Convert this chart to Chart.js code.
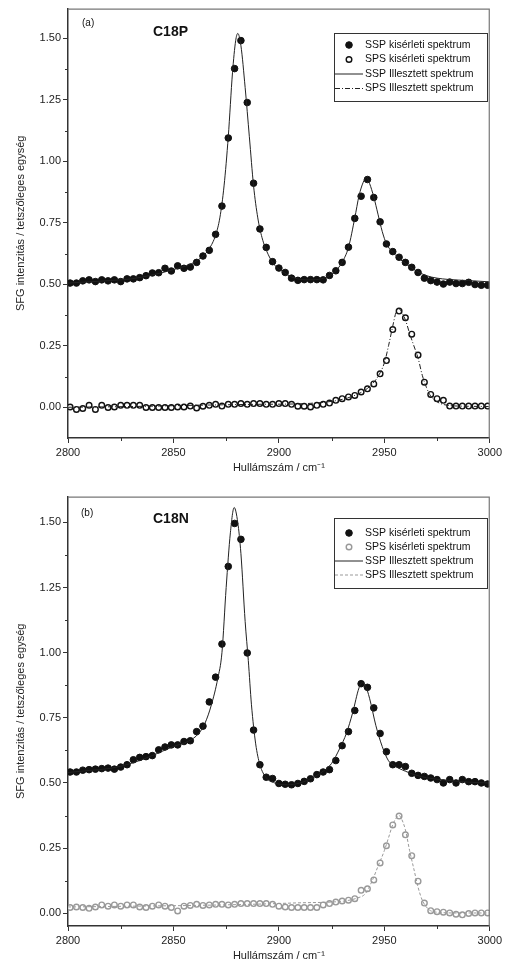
<!DOCTYPE html>
<html><head><meta charset="utf-8">
<script src="https://cdn.jsdelivr.net/npm/chart.js@4.4.1/dist/chart.umd.min.js"></script>
<style>
html,body{margin:0;padding:0;background:#fff;}
#wrap{position:relative;width:505px;height:976px;}
.c{position:absolute;left:0;width:505px;height:488px;}
</style></head><body>
<div id="wrap">
<div class="c" style="top:0"><canvas id="ca"></canvas></div>
<div class="c" style="top:488px"><canvas id="cb"></canvas></div>
</div>
<script>
// ---------- DATA ----------
const wavenumbers = [2801,2804,2807,2810,2813,2816,2819,2822,2825,2828,2831,2834,2837,2840,2843,2846,2849,2852,2855,2858,2861,2864,2867,2870,2873,2876,2879,2882,2885,2888,2891,2894,2897,2900,2903,2906,2909,2912,2915,2918,2921,2924,2927,2930,2933,2936,2939,2942,2945,2948,2951,2954,2957,2960,2963,2966,2969,2972,2975,2978,2981,2984,2987,2990,2993,2996,2999];

// (a) C18P
const sspA = [0.505,0.505,0.514,0.518,0.511,0.518,0.514,0.518,0.511,0.522,
0.522,0.527,0.535,0.546,0.547,0.565,0.554,0.575,0.565,0.570,
0.589,0.615,0.638,0.703,0.818,1.095,1.377,1.491,1.239,0.911,
0.725,0.650,0.592,0.566,0.548,0.525,0.516,0.519,0.519,0.519,
0.518,0.536,0.555,0.589,0.651,0.768,0.858,0.926,0.853,0.754,
0.664,0.633,0.610,0.589,0.569,0.548,0.525,0.515,0.509,0.501,
0.509,0.503,0.503,0.508,0.499,0.496,0.496];
const spsA = [0.001,-0.009,-0.005,0.008,-0.009,0.008,-0.001,0.001,0.008,0.008,
0.008,0.008,-0.001,-0.001,-0.001,-0.001,-0.001,0.001,0.001,0.005,
-0.003,0.004,0.008,0.012,0.005,0.012,0.012,0.015,0.012,0.015,
0.015,0.012,0.012,0.015,0.015,0.012,0.004,0.004,0.001,0.008,
0.012,0.017,0.028,0.035,0.042,0.048,0.062,0.075,0.095,0.136,
0.190,0.316,0.391,0.364,0.297,0.212,0.102,0.052,0.035,0.028,
0.005,0.005,0.005,0.005,0.005,0.005,0.005];
const sspFitXA = [2800,2810,2820,2830,2840,2845,2850,2855,2860,2864,2867,2870,2872,2874,2876,2878,2879.5,2880.5,2882,2884,2886,2888,2890,2892,2895,2898,2902,2906,2910,2915,2920,2924,2927,2930,2933,2936,2938,2940,2941.5,2943,2945,2947,2949,2951,2954,2957,2960,2965,2970,2975,2980,2990,3000];
const sspFitA = [0.505,0.51,0.515,0.522,0.538,0.548,0.56,0.572,0.59,0.615,0.645,0.70,0.77,0.90,1.10,1.36,1.49,1.52,1.47,1.30,1.10,0.90,0.77,0.69,0.62,0.578,0.55,0.53,0.52,0.518,0.522,0.535,0.555,0.59,0.65,0.77,0.86,0.915,0.935,0.91,0.855,0.785,0.715,0.665,0.63,0.605,0.585,0.555,0.535,0.525,0.52,0.515,0.51];
const spsFitXA = [2800,2830,2860,2890,2905,2915,2925,2930,2935,2940,2944,2947,2950,2952,2954,2955.5,2956.7,2958,2960,2962,2964,2966,2968,2970,2972,2975,2980,2990,3000];
const spsFitA = [0.0,0.003,0.008,0.012,0.013,0.016,0.024,0.032,0.045,0.065,0.092,0.125,0.18,0.25,0.33,0.385,0.402,0.39,0.355,0.30,0.25,0.20,0.13,0.08,0.045,0.022,0.008,0.004,0.003];

// (b) C18N
const sspB = [0.542,0.542,0.549,0.551,0.553,0.555,0.557,0.553,0.561,0.570,
0.589,0.598,0.601,0.605,0.627,0.638,0.646,0.646,0.659,0.662,
0.697,0.718,0.811,0.906,1.033,1.331,1.496,1.435,0.999,0.703,
0.570,0.522,0.517,0.498,0.495,0.493,0.498,0.506,0.516,0.532,
0.542,0.551,0.586,0.643,0.697,0.778,0.881,0.867,0.788,0.690,
0.620,0.570,0.570,0.563,0.537,0.529,0.525,0.519,0.513,0.500,
0.513,0.500,0.513,0.505,0.505,0.500,0.496];
const spsB = [0.022,0.024,0.022,0.019,0.024,0.032,0.027,0.032,0.027,0.032,
0.032,0.024,0.022,0.027,0.032,0.027,0.022,0.009,0.027,0.030,
0.034,0.030,0.032,0.034,0.034,0.032,0.034,0.037,0.037,0.037,
0.037,0.037,0.034,0.027,0.024,0.022,0.022,0.022,0.022,0.022,
0.032,0.037,0.043,0.047,0.050,0.056,0.088,0.094,0.128,0.193,
0.259,0.339,0.373,0.301,0.221,0.123,0.039,0.010,0.006,0.004,
0.001,-0.004,-0.006,-0.001,0.001,0.001,0.001];
const sspFitXB = [2800,2810,2820,2830,2840,2850,2857,2862,2865,2868,2871,2873,2875,2877,2878.8,2880.5,2882,2884,2885.5,2887,2889,2891,2894,2898,2904,2910,2916,2921,2925,2929,2932,2935,2938,2939.5,2941,2943,2946,2949,2952,2955,2960,2965,2970,2980,2990,3000];
const sspFitB = [0.54,0.548,0.556,0.575,0.605,0.64,0.66,0.69,0.73,0.80,0.90,1.00,1.25,1.46,1.557,1.50,1.38,1.12,0.97,0.80,0.65,0.57,0.52,0.50,0.493,0.50,0.52,0.545,0.575,0.635,0.69,0.77,0.865,0.885,0.875,0.825,0.72,0.64,0.585,0.565,0.545,0.53,0.52,0.51,0.503,0.50];
const spsFitXB = [2800,2830,2860,2890,2910,2925,2932,2937,2941,2944,2947,2950,2952,2954,2956,2957,2958,2960,2962,2964,2966,2968,2971,2975,2985,3000];
const spsFitB = [0.024,0.027,0.03,0.035,0.04,0.043,0.048,0.058,0.075,0.12,0.18,0.24,0.29,0.34,0.37,0.375,0.365,0.32,0.24,0.17,0.10,0.05,0.015,0.004,0.001,0.001];

// ticks
const xTicks = [2800,2850,2900,2950,3000];
const xMinorTicks = [2825,2875,2925,2975];
const yTicks = [0,0.25,0.5,0.75,1.0,1.25,1.5];
const yMinorTicks = [0.125,0.375,0.625,0.875,1.125,1.375];

// texts
const yTitle = 'SFG intenzitás / tetszőleges egység';
const xTitle = 'Hullámszám / cm⁻¹';
const legendTexts = ['SSP kisérleti spektrum','SPS kisérleti spektrum','SSP Illesztett spektrum','SPS Illesztett spektrum'];

// ---------- DRAWING ----------
const FONT = '"Liberation Sans", Arial, sans-serif';
const pts = (xs, ys) => xs.map((x,i)=>({x:x, y:ys[i]}));

function decorPlugin(p) {
  return {
    id: 'decor',
    afterDraw(chart) {
      const {ctx, chartArea:a, scales} = chart;
      const x = scales.x, y = scales.y;
      ctx.save();
      // top/right frame
      ctx.strokeStyle = '#777'; ctx.lineWidth = 1.2;
      ctx.beginPath();
      ctx.moveTo(a.left, a.top + 0.5); ctx.lineTo(a.right - 0.5, a.top + 0.5); ctx.lineTo(a.right - 0.5, a.bottom);
      ctx.stroke();
      // minor ticks
      ctx.strokeStyle = '#333'; ctx.lineWidth = 1;
      ctx.beginPath();
      xMinorTicks.forEach(v => { const px = Math.round(x.getPixelForValue(v)) + 0.5; ctx.moveTo(px, a.bottom); ctx.lineTo(px, a.bottom + 3); });
      yMinorTicks.forEach(v => { const py = Math.round(y.getPixelForValue(v)) + 0.5; ctx.moveTo(a.left, py); ctx.lineTo(a.left - 3, py); });
      ctx.stroke();
      // panel labels
      ctx.fillStyle = '#111'; ctx.textBaseline = 'middle'; ctx.textAlign = 'left';
      ctx.font = '10px ' + FONT;
      ctx.fillText(p.tag, p.tagX, p.tagY);
      ctx.font = 'bold 14px ' + FONT;
      ctx.fillText(p.name, p.nameX, p.nameY);
      // legend
      const L = p.legend;
      ctx.strokeStyle = '#333'; ctx.lineWidth = 1;
      ctx.strokeRect(L.x0 + 0.5, L.y0 + 0.5, L.x1 - L.x0, L.y1 - L.y0);
      ctx.font = '10.5px ' + FONT;
      L.items.forEach((it, i) => {
        const ry = L.rows[i];
        if (it.kind === 'point') {
          ctx.beginPath(); ctx.arc(L.markerX, ry, it.r, 0, Math.PI*2);
          ctx.fillStyle = it.fill; ctx.fill();
          ctx.lineWidth = it.bw; ctx.strokeStyle = it.stroke; ctx.stroke();
        } else {
          ctx.beginPath(); ctx.setLineDash(it.dash || []);
          ctx.moveTo(L.lineX0, ry); ctx.lineTo(L.lineX1, ry);
          ctx.lineWidth = 1; ctx.strokeStyle = it.stroke; ctx.stroke();
          ctx.setLineDash([]);
        }
        ctx.fillStyle = '#111';
        ctx.fillText(legendTexts[i], L.textX, ry);
      });
      ctx.restore();
    }
  };
}

function build(id, cfg) {
  new Chart(document.getElementById(id), {
    type: 'scatter',
    data: { datasets: [
      { label: legendTexts[2], data: pts(cfg.sspFitX, cfg.sspFit), showLine: true, pointRadius: 0, borderColor: '#222', borderWidth: 1, cubicInterpolationMode: 'monotone' },
      { label: legendTexts[3], data: pts(cfg.spsFitX, cfg.spsFit), showLine: true, pointRadius: 0, borderColor: cfg.spsFitColor, borderWidth: 1, borderDash: cfg.spsFitDash, cubicInterpolationMode: 'monotone' },
      { label: legendTexts[0], data: pts(wavenumbers, cfg.ssp), showLine: false, pointRadius: 3.3, pointBackgroundColor: '#111', pointBorderColor: '#111', pointBorderWidth: 1 },
      { label: legendTexts[1], data: pts(wavenumbers, cfg.sps), showLine: false, pointRadius: 2.8, pointBackgroundColor: '#fff', pointBorderColor: cfg.spsColor, pointBorderWidth: 1.4 }
    ]},
    options: {
      animation: false, responsive: true, maintainAspectRatio: false,
      layout: { padding: { left: 0, top: 5, right: 15, bottom: 0 } },
      plugins: { legend: { display: false }, tooltip: { enabled: false } },
      scales: {
        x: {
          type: 'linear', min: 2800, max: 3000,
          afterBuildTicks: s => { s.ticks = xTicks.map(v => ({ value: v })); },
          afterFit: s => { s.height = 50; },
          ticks: { callback: v => String(v), font: { family: FONT, size: 11 }, color: '#222', padding: 3, maxRotation: 0, autoSkip: false },
          grid: { drawOnChartArea: false, tickLength: 5, tickColor: '#333', tickWidth: 1 },
          border: { color: '#333', width: 1.5 },
          title: { display: true, text: xTitle, font: { family: FONT, size: 11 }, color: '#222', padding: { top: 0, bottom: 13 } }
        },
        y: {
          type: 'linear', min: cfg.ymin, max: cfg.ymax,
          afterBuildTicks: s => { s.ticks = yTicks.map(v => ({ value: v })); },
          afterFit: s => { s.width = 68; },
          ticks: { callback: v => Number(v).toFixed(2), font: { family: FONT, size: 11 }, color: '#222', padding: 2, autoSkip: false },
          grid: { drawOnChartArea: false, tickLength: 5, tickColor: '#333', tickWidth: 1 },
          border: { color: '#333', width: 1.5 },
          title: { display: true, text: yTitle, font: { family: FONT, size: 11 }, color: '#222', padding: { top: 14, bottom: 0 } }
        }
      }
    },
    plugins: [decorPlugin(cfg.decor)]
  });
}

build('ca', {
  ssp: sspA, sps: spsA, sspFitX: sspFitXA, sspFit: sspFitA, spsFitX: spsFitXA, spsFit: spsFitA,
  spsColor: '#111', spsFitColor: '#222', spsFitDash: [5,2,1,2],
  ymin: -0.125, ymax: 1.621,
  decor: { tag: '(a)', tagX: 82, tagY: 23, name: 'C18P', nameX: 153, nameY: 32,
    legend: { x0: 334, y0: 33, x1: 487, y1: 101, rows: [45, 59.5, 74, 88.5], markerX: 349, textX: 365, lineX0: 335, lineX1: 363,
      items: [ {kind:'point', r:3.3, fill:'#111', stroke:'#111', bw:1}, {kind:'point', r:2.8, fill:'#fff', stroke:'#111', bw:1.4}, {kind:'line', stroke:'#222'}, {kind:'line', stroke:'#222', dash:[5,2,1,2]} ] } }
});
build('cb', {
  ssp: sspB, sps: spsB, sspFitX: sspFitXB, sspFit: sspFitB, spsFitX: spsFitXB, spsFit: spsFitB,
  spsColor: '#999', spsFitColor: '#999', spsFitDash: [3,2],
  ymin: -0.049, ymax: 1.599,
  decor: { tag: '(b)', tagX: 81, tagY: 25, name: 'C18N', nameX: 153, nameY: 31,
    legend: { x0: 334, y0: 30, x1: 487, y1: 100, rows: [45, 59, 73, 87], markerX: 349, textX: 365, lineX0: 335, lineX1: 363,
      items: [ {kind:'point', r:3.3, fill:'#111', stroke:'#111', bw:1}, {kind:'point', r:2.8, fill:'#fff', stroke:'#999', bw:1.4}, {kind:'line', stroke:'#222'}, {kind:'line', stroke:'#999', dash:[3,2]} ] } }
});
</script>
</body></html>
